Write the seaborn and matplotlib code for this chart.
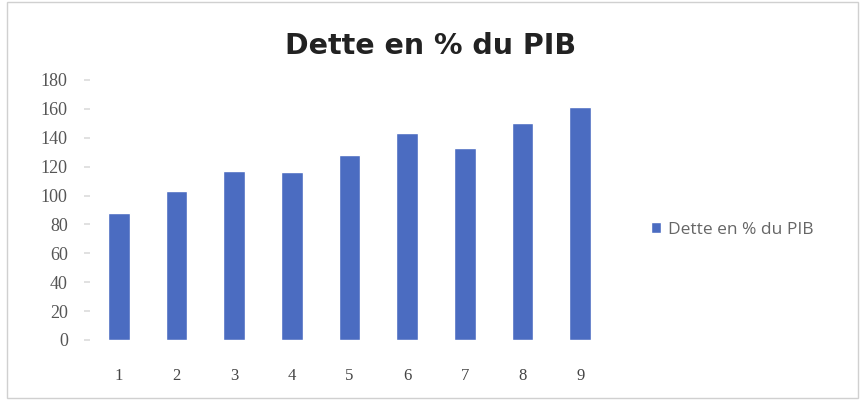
"""Dette en % du PIB - bar chart."""

import matplotlib
matplotlib.use("Agg")
import matplotlib.pyplot as plt
from matplotlib.patches import Rectangle
import pandas as pd
import seaborn as sns

periods = ["1", "2", "3", "4", "5", "6", "7", "8", "9"]
dette_pib = [88, 103, 117, 116, 128, 143, 133, 150, 161]
series_name = "Dette en % du PIB"
y_ticks = [0, 20, 40, 60, 80, 100, 120, 140, 160, 180]

BAR_COLOR = "#4B6CC1"


def main() -> None:
    sns.set_theme(style="white")
    plt.rcParams["font.family"] = ["DejaVu Sans"]

    df = pd.DataFrame({"periode": periods, "dette": dette_pib})

    fig = plt.figure(figsize=(8.61, 4.0), dpi=100)
    ax = fig.add_axes([90 / 861, 60 / 400, 519 / 861, 260 / 400])
    sns.barplot(data=df, x="periode", y="dette", color=BAR_COLOR, width=0.38,
                saturation=1, label=series_name, ax=ax)

    ax.set_ylim(0, 180)
    ax.set_yticks(y_ticks)
    ax.set_xlim(-0.5, len(periods) - 0.5)
    ax.set_xlabel("")
    ax.set_ylabel("")
    for s in ax.spines.values():
        s.set_visible(False)
    ax.tick_params(axis="y", left=True, length=4, color="#dddddd", pad=12,
                   labelsize=13, labelcolor="#555555")
    ax.tick_params(axis="x", bottom=False, pad=14, labelsize=12, labelcolor="#444444")
    for lab in ax.get_yticklabels() + ax.get_xticklabels():
        lab.set_family("Liberation Serif")

    fig.text(0.5, 0.885, series_name, ha="center", va="center",
             fontsize=20.5, fontweight="semibold", color="#222222")

    ax.legend(loc="center left", bbox_to_anchor=(635 / 861, 1 - 230 / 400),
              bbox_transform=fig.transFigure, frameon=False,
              prop={"family": "Open Sans", "size": 12.5},
              handlelength=0.6, handleheight=0.6, handletextpad=0.4,
              labelcolor="#666666")

    fig.patches.append(Rectangle((7 / 861, 2 / 400), 851 / 861, 396 / 400,
                                 transform=fig.transFigure, fill=False,
                                 edgecolor="#d0d0d0", linewidth=1))

    fig.savefig("out.png", dpi=100)
    plt.close(fig)


if __name__ == "__main__":
    main()
